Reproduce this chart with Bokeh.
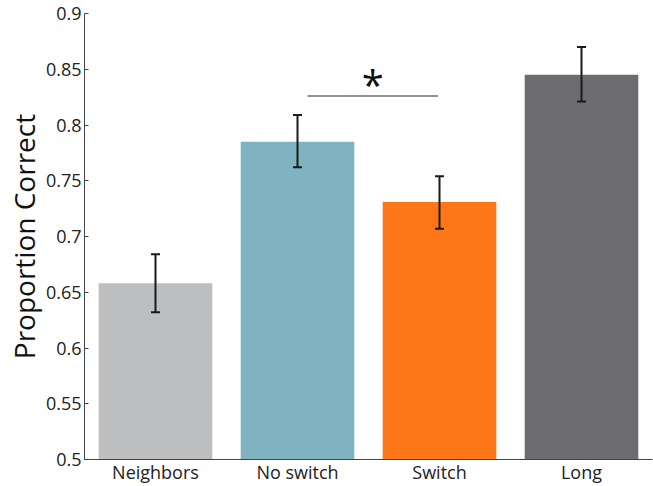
from bokeh.plotting import figure
from bokeh.models import Range1d, FixedTicker, ColumnDataSource, Whisker, TeeHead, Label
from bokeh.embed import file_html
from bokeh.resources import INLINE

categories = ["Neighbors", "No switch", "Switch", "Long"]
means = [0.658, 0.785, 0.731, 0.845]
lower = [0.632, 0.762, 0.707, 0.821]
upper = [0.684, 0.809, 0.754, 0.870]
colors = ["#bdbec0", "#7fb3c1", "#fd7618", "#6d6c71"]
y_ticks = [0.5, 0.55, 0.6, 0.65, 0.7, 0.75, 0.8, 0.85, 0.9]
y_tick_labels = ["0.5", "0.55", "0.6", "0.65", "0.7", "0.75", "0.8", "0.85", "0.9"]
sig_x = [1.57, 2.49]
sig_y = 0.826
sig_label = "*"

xpos = [i + 0.5 for i in range(len(categories))]

p = figure(width=653, height=486, output_backend="svg", toolbar_location=None,
           x_range=Range1d(0, 4), y_range=Range1d(0.5, 0.9),
           min_border_left=84, min_border_right=1, min_border_top=13, min_border_bottom=26)
p.outline_line_color = None
p.grid.visible = False
p.background_fill_color = "white"

src = ColumnDataSource(dict(x=xpos, top=means, lower=lower, upper=upper, color=colors))
p.vbar(x="x", top="top", bottom=0.5, width=0.8, fill_color="color", line_color=None, source=src)

w = Whisker(base="x", lower="lower", upper="upper", source=src, dimension="height",
            line_color="#1a1a1a", line_width=2, level="overlay")
w.upper_head = TeeHead(size=9, line_color="#1a1a1a", line_width=2)
w.lower_head = TeeHead(size=9, line_color="#1a1a1a", line_width=2)
p.add_layout(w)

p.line(x=sig_x, y=[sig_y, sig_y], line_color="#222222", line_width=1.2)
p.add_layout(Label(x=sum(sig_x) / 2, y=sig_y, text=sig_label, text_align="center",
                   text_baseline="bottom", text_font="Open Sans", text_font_size="40px",
                   text_color="#111111", y_offset=-16))

# y axis
ya = p.yaxis[0]
ya.ticker = FixedTicker(ticks=y_ticks)
ya.major_label_overrides = {t: l for t, l in zip(y_ticks, y_tick_labels)}
ya.major_tick_in = 4
ya.major_tick_out = 0
ya.minor_tick_in = 0
ya.minor_tick_out = 0
ya.axis_line_color = "#444444"
ya.major_tick_line_color = "#444444"
ya.major_label_text_font = "Open Sans"
ya.major_label_text_font_size = "18px"
ya.major_label_text_color = "#222222"
ya.major_label_standoff = 3
ya.axis_label = "Proportion Correct"
ya.axis_label_text_font = "Open Sans"
ya.axis_label_text_font_size = "28px"
ya.axis_label_text_font_style = "normal"
ya.axis_label_text_color = "#111111"
ya.axis_label_standoff = 0

# x axis
xa = p.xaxis[0]
xa.ticker = FixedTicker(ticks=xpos)
xa.major_label_overrides = {x: c for x, c in zip(xpos, categories)}
xa.major_tick_in = 0
xa.major_tick_out = 0
xa.minor_tick_in = 0
xa.minor_tick_out = 0
xa.axis_line_color = "#444444"
xa.major_label_text_font = "Open Sans"
xa.major_label_text_font_size = "18px"
xa.major_label_text_color = "#222222"
xa.major_label_standoff = 0

open("out.html", "w").write(file_html(p, INLINE))
